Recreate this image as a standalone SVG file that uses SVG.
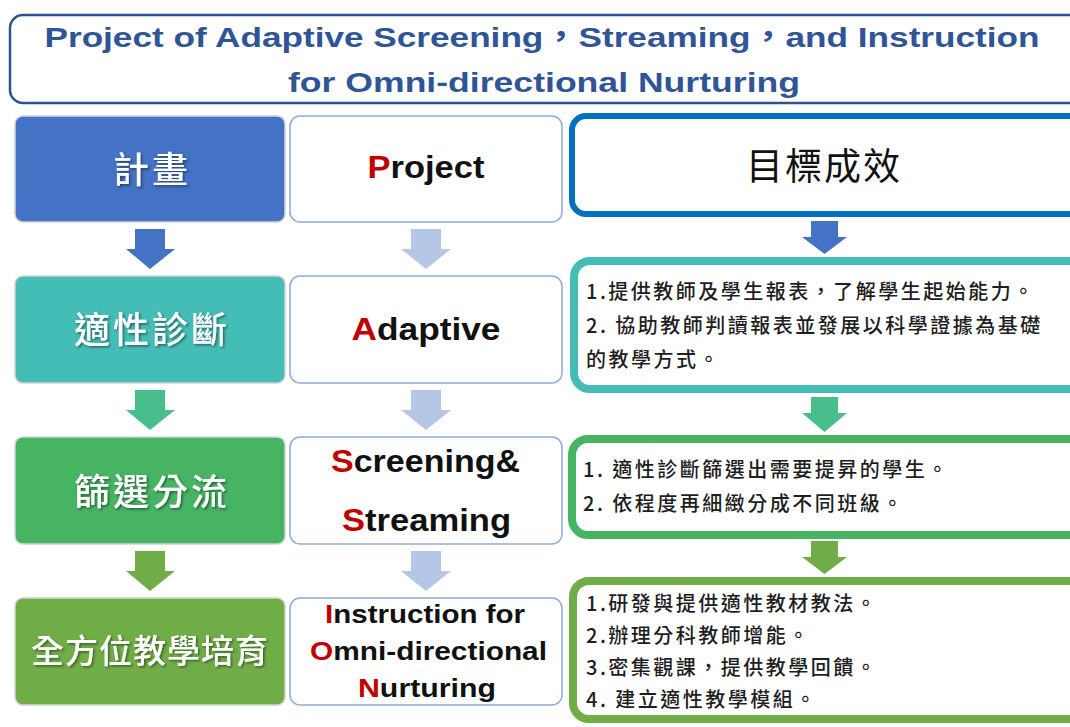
<svg xmlns="http://www.w3.org/2000/svg" width="1070" height="727" viewBox="0 0 1070 727">
<defs>
<filter id="sh" x="-10%" y="-10%" width="120%" height="130%">
<feDropShadow dx="1.5" dy="1.5" stdDeviation="1" flood-color="#000" flood-opacity="0.45"/>
</filter>
</defs>
<style>
.lbox{stroke:#D2D2D2;stroke-width:1.5}
.cbox{fill:#fff;stroke:#8FAADC;stroke-width:1.5}
.ltxt{font-family:"Noto Sans CJK TC","Noto Sans CJK SC",sans-serif;font-size:36px;font-weight:500;fill:#fff;text-anchor:middle;letter-spacing:3px}
.ltxt7{font-size:33px;letter-spacing:1px}
.ctxt{font-family:"Liberation Sans",Arial,sans-serif;font-weight:bold;fill:#111;text-anchor:middle}
.r{fill:#C00000}
.rtxt{font-family:"Noto Sans CJK TC","Noto Sans CJK SC",sans-serif;font-size:20px;font-weight:500;fill:#1e1e1e;letter-spacing:2.5px}
.title{font-family:"Liberation Sans","Noto Sans CJK TC",sans-serif;font-weight:bold;font-size:28px;fill:#2F5597;text-anchor:middle}
</style>
<rect width="1070" height="727" fill="#fff"/>

<g id="title">
<rect x="10" y="15" width="1080" height="88" rx="13" fill="#fff" stroke="#2F528F" stroke-width="2.5"/>
<text class="title" x="542" y="47" textLength="995" lengthAdjust="spacingAndGlyphs">Project of Adaptive Screening，Streaming，and Instruction</text>
<text class="title" x="544" y="92" textLength="512" lengthAdjust="spacingAndGlyphs">for Omni-directional Nurturing</text>
</g>

<g id="n-plan">
<rect class="lbox" x="15" y="116" width="270" height="106" rx="8" fill="#4472C4"/>
<text class="ltxt" x="152" y="183" filter="url(#sh)">計畫</text>
</g>
<g id="n-project">
<rect class="cbox" x="290" y="116" width="272" height="106" rx="10"/>
<text class="ctxt" x="426" y="178" font-size="32" textLength="117" lengthAdjust="spacingAndGlyphs"><tspan class="r">P</tspan>roject</text>
</g>
<g id="n-goal">
<rect x="572" y="116" width="520" height="98" rx="14" fill="#fff" stroke="#0070C0" stroke-width="6"/>
<text x="824" y="180" font-family="'Noto Sans CJK TC','Noto Sans CJK SC',sans-serif" font-size="37" font-weight="normal" fill="#111" text-anchor="middle" letter-spacing="2">目標成效</text>
</g>

<g id="n-adaptive-zh">
<rect class="lbox" x="15" y="276" width="270" height="107" rx="8" fill="#43BDB5"/>
<text class="ltxt" x="152" y="343" filter="url(#sh)">適性診斷</text>
</g>
<g id="n-adaptive">
<rect class="cbox" x="290" y="276" width="272" height="107" rx="10"/>
<text class="ctxt" x="426" y="340" font-size="32" textLength="149" lengthAdjust="spacingAndGlyphs"><tspan class="r">A</tspan>daptive</text>
</g>
<g id="n-goal-adaptive">
<rect x="574" y="261" width="520" height="128" rx="16" fill="#fff" stroke="#43BDB5" stroke-width="8"/>
<text class="rtxt" x="586" y="299">1.提供教師及學生報表，了解學生起始能力。</text>
<text class="rtxt" x="586" y="333">2. 協助教師判讀報表並發展以科學證據為基礎</text>
<text class="rtxt" x="586" y="367">的教學方式。</text>
</g>

<g id="n-screen-zh">
<rect class="lbox" x="15" y="437" width="270" height="107" rx="8" fill="#46B463"/>
<text class="ltxt" x="152" y="505" filter="url(#sh)">篩選分流</text>
</g>
<g id="n-screen">
<rect class="cbox" x="290" y="437" width="272" height="107" rx="10"/>
<text class="ctxt" x="425.5" y="472" font-size="32" textLength="189" lengthAdjust="spacingAndGlyphs"><tspan class="r">S</tspan>creening&amp;</text>
<text class="ctxt" x="426.5" y="531" font-size="32" textLength="169" lengthAdjust="spacingAndGlyphs"><tspan class="r">S</tspan>treaming</text>
</g>
<g id="n-goal-screen">
<rect x="572" y="439" width="520" height="96" rx="16" fill="#fff" stroke="#46B463" stroke-width="8"/>
<text class="rtxt" x="583" y="477">1. 適性診斷篩選出需要提昇的學生。</text>
<text class="rtxt" x="583" y="511">2. 依程度再細緻分成不同班級。</text>
</g>

<g id="n-instr-zh">
<rect class="lbox" x="15" y="598" width="270" height="107" rx="8" fill="#70AD47"/>
<text class="ltxt ltxt7" x="150" y="663" filter="url(#sh)">全方位教學培育</text>
</g>
<g id="n-instr">
<rect class="cbox" x="290" y="598" width="272" height="107" rx="10"/>
<text class="ctxt" x="425" y="623" font-size="26" textLength="200" lengthAdjust="spacingAndGlyphs"><tspan class="r">I</tspan>nstruction for</text>
<text class="ctxt" x="428.5" y="660" font-size="26" textLength="237" lengthAdjust="spacingAndGlyphs"><tspan class="r">O</tspan>mni-directional</text>
<text class="ctxt" x="427" y="697" font-size="26" textLength="138" lengthAdjust="spacingAndGlyphs"><tspan class="r">N</tspan>urturing</text>
</g>
<g id="n-goal-instr">
<rect x="573" y="581" width="520" height="138" rx="16" fill="#fff" stroke="#70AD47" stroke-width="8"/>
<text class="rtxt" x="586" y="611">1.研發與提供適性教材教法。</text>
<text class="rtxt" x="586" y="643">2.辦理分科教師增能。</text>
<text class="rtxt" x="586" y="675">3.密集觀課，提供教學回饋。</text>
<text class="rtxt" x="586" y="707">4. 建立適性教學模組。</text>
</g>

<g id="connectors">
<polygon fill="#4472C4" points="135,229 165,229 165,249 175,249 150,269 126,249 135,249"/>
<polygon fill="#47BE8C" points="135,390 165,390 165,410 175,410 150,430 126,410 135,410"/>
<polygon fill="#70AD47" points="135,551 165,551 165,571 175,571 150,591 126,571 135,571"/>
<polygon fill="#B4C7E7" points="411,229 441,229 441,249 451,249 426,269 401,249 411,249"/>
<polygon fill="#B4C7E7" points="411,390 441,390 441,410 451,410 426,430 401,410 411,410"/>
<polygon fill="#B4C7E7" points="411,551 441,551 441,571 451,571 426,591 401,571 411,571"/>
<polygon fill="#4472C4" points="811,221 838,221 838,237 847,237 824.5,254 802,237 811,237"/>
<polygon fill="#47BE8C" points="811,397 838,397 838,413 847,413 824.5,432 802,413 811,413"/>
<polygon fill="#70AD47" points="811,541 838,541 838,557 847,557 824.5,574 802,557 811,557"/>
</g>
</svg>
